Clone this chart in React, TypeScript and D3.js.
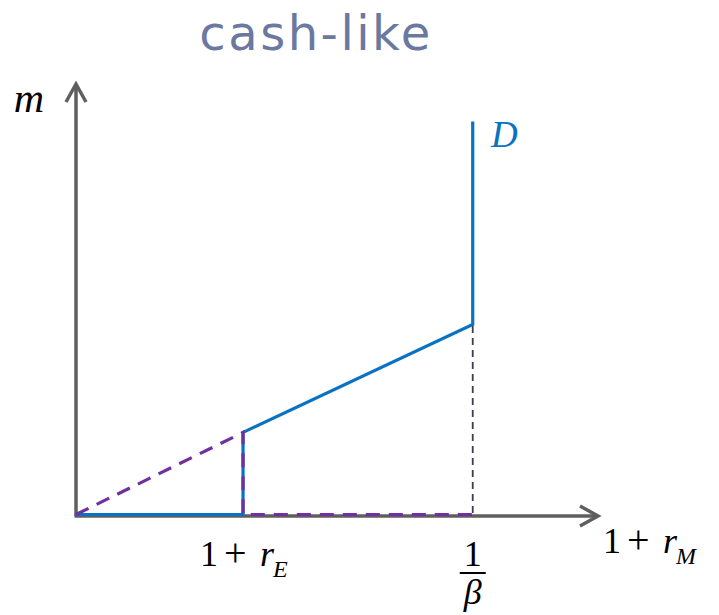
import React from "react";
import * as d3 from "d3";

const demandX = [0, 0.32, 0.32, 0.76, 0.76];
const demandY = [0, 0, 0.19, 0.44, 0.91];
const purpleX = [0, 0.32, 0.32, 0.76];
const purpleY = [0, 0.19, 0, 0];
const markerX = [0.76, 0.76];
const markerY = [0.44, 0];

export default function App() {
  const W = 719, H = 615;
  const x = d3.scaleLinear().domain([0, 1]).range([76, 598]);
  const y = d3.scaleLinear().domain([0, 1]).range([516, 84]);
  const line = d3.line<[number, number]>().x(d => x(d[0])).y(d => y(d[1]));
  const demand = demandX.map((v, i) => [v, demandY[i]] as [number, number]);
  const purple = purpleX.map((v, i) => [v, purpleY[i]] as [number, number]);
  const marker = markerX.map((v, i) => [v, markerY[i]] as [number, number]);
  const serif = "'Liberation Serif', 'DejaVu Serif', serif";
  const axisColor = "#5f5f5f";
  return (
    <svg width={W} height={H} style={{ position: "absolute", left: 0, top: 0 }}>
      <rect width={W} height={H} fill="#fff" />
      <text x={316} y={50} textAnchor="middle" fontFamily="'DejaVu Sans', Verdana, sans-serif" fontSize={48} letterSpacing={2.5} fill="#6b78a0">cash-like</text>
      <path d={line(marker) || ""} fill="none" stroke="#3c3c4a" strokeWidth={1.8} strokeDasharray="7,5" />
      <line x1={x(0)} y1={y(0)} x2={x(0)} y2={y(1) + 2} stroke={axisColor} strokeWidth={3.5} />
      <line x1={x(0) - 1.5} y1={y(0)} x2={x(1) - 2} y2={y(0)} stroke={axisColor} strokeWidth={3.5} />
      <path d={`M${x(0) - 10},${y(1) + 18} L${x(0)},${y(1)} L${x(0) + 10},${y(1) + 18}`} fill="none" stroke={axisColor} strokeWidth={3.5} strokeLinejoin="miter" />
      <path d={`M${x(1) - 18},${y(0) - 10} L${x(1)},${y(0)} L${x(1) - 18},${y(0) + 10}`} fill="none" stroke={axisColor} strokeWidth={3.5} strokeLinejoin="miter" />
      <path d={line(demand) || ""} fill="none" stroke="#0a72c2" strokeWidth={3.2} transform="translate(0,-1.5)" />
      <path d={line(purple) || ""} fill="none" stroke="#7030a0" strokeWidth={3.2} strokeDasharray="14,9" transform="translate(0,-1.5)" />
      <text x={29} y={112} fontFamily={serif} fontStyle="italic" fontSize={42} textAnchor="middle">m</text>
      <text x={491} y={147} fontFamily={serif} fontStyle="italic" fontSize={37} fill="#0a72c2">D</text>
      <g fontFamily={serif} fontSize={36}>
        <text x={200} y={566}>1</text>
        <text x={224} y={566} fontSize={40}>+</text>
        <text x={260} y={566} fontStyle="italic">r</text>
        <text x={273} y={577} fontStyle="italic" fontSize={24}>E</text>
        <text x={x(0.76)} y={566} textAnchor="middle">1</text>
        <text x={x(0.76)} y={604} textAnchor="middle" fontStyle="italic">β</text>
        <text x={603} y={553}>1</text>
        <text x={627} y={553} fontSize={40}>+</text>
        <text x={663} y={553} fontStyle="italic">r</text>
        <text x={676} y={564} fontStyle="italic" fontSize={24}>M</text>
      </g>
      <line x1={x(0.76) - 13} x2={x(0.76) + 13} y1={573} y2={573} stroke="#000" strokeWidth={2} />
    </svg>
  );
}
